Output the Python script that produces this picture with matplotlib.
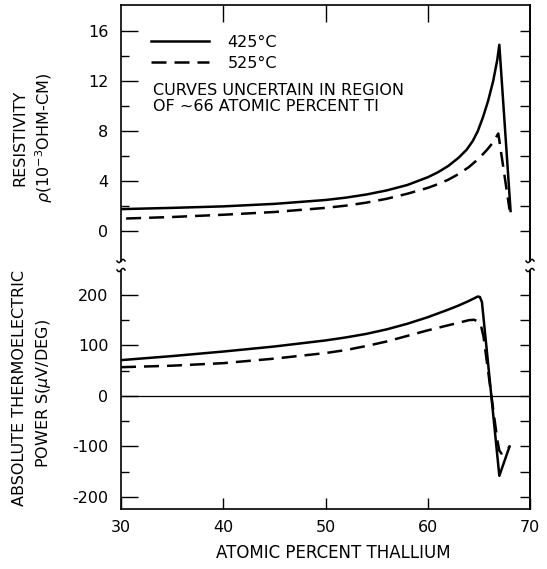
import matplotlib
matplotlib.use("Agg")
import matplotlib.pyplot as plt
from matplotlib.lines import Line2D
import numpy as np

plt.rcParams['font.family'] = ['DejaVu Sans']
plt.rcParams['mathtext.fontset'] = 'dejavusans'

# ---- data ----
# Resistivity (10^-3 ohm-cm)
rho_425_x = [30, 35, 40, 45, 50, 52, 54, 56, 58, 60, 61, 62, 63, 63.8, 64.4, 64.9, 65.4, 65.9, 66.4, 66.8, 67.0, 68.1]
rho_425_y = [1.75, 1.85, 1.97, 2.17, 2.48, 2.67, 2.92, 3.25, 3.68, 4.3, 4.7, 5.2, 5.85, 6.5, 7.2, 8.0, 9.1, 10.4, 12.0, 13.7, 14.9, 1.6]
rho_525_x = [30.5, 35, 40, 45, 50, 52, 54, 56, 58, 60, 61, 62, 63, 64, 65, 65.8, 66.4, 66.9, 68.0]
rho_525_y = [1.0, 1.12, 1.3, 1.52, 1.85, 2.03, 2.27, 2.58, 2.98, 3.45, 3.75, 4.1, 4.55, 5.1, 5.8, 6.5, 7.1, 7.8, 1.7]

# Absolute thermoelectric power (uV/deg)
s_425_x = [30, 35, 40, 45, 50, 52, 54, 56, 58, 60, 62, 63, 64, 64.6, 64.9, 65.1, 65.3, 67.0, 68.0]
s_425_y = [71, 79, 88, 98, 110, 116, 123, 132, 143, 156, 171, 179, 188, 194, 197, 196, 186, -158, -100]
s_525_x = [30, 35, 40, 45, 50, 52, 54, 56, 58, 60, 62, 63.2, 64, 64.5, 64.9, 65.2, 65.45, 66.8, 67.0, 67.2, 67.5, 68.0]
s_525_y = [57, 60, 65, 74, 85, 91, 99, 108, 119, 130, 140, 146, 150, 151, 148, 140, 118, -87, -108, -114, -112, -100]

labels = ["425°C", "525°C"]
x_ticks = [30, 40, 50, 60, 70]
rho_major = [0, 4, 8, 12, 16]
rho_minor = [2, 6, 10, 14]
rho_right = [0, 2, 4, 6, 8, 10, 12, 14, 16]
s_major = [-200, -100, 0, 100, 200]
s_minor = [-150, -50, 50, 150]
s_right = [-200, -150, -100, -50, 0, 50, 100, 150, 200]

W, H = 547, 569
fig = plt.figure(figsize=(W / 100, H / 100), dpi=100)

def fx(px):
    return px / W

def fy(py):
    return 1 - py / H

L, R = 121, 530
ax1 = fig.add_axes([fx(L), fy(261), (R - L) / W, (261 - 5) / H])
ax2 = fig.add_axes([fx(L), fy(509), (R - L) / W, (509 - 271) / H])

lw = 1.8
dash = (6, 3.2)
tick_fs = 11.5

for ax in (ax1, ax2):
    ax.set_xlim(30, 70)
    for s in ax.spines.values():
        s.set_linewidth(1.2)

# top panel
ax1.plot(rho_425_x, rho_425_y, color='black', lw=lw, label=labels[0])
ax1.plot(rho_525_x, rho_525_y, color='black', lw=lw, ls=(0, dash), label=labels[1])
ax1.set_ylim(-2.4, 18.08)
ax1.spines['bottom'].set_visible(False)
ax1.xaxis.set_ticks_position('top')
ax1.set_xticks([40, 50, 60])
ax1.tick_params(axis='x', which='both', direction='in', length=12, width=1.0, labeltop=False, labelbottom=False)
ax1.set_yticks(rho_major)
ax1.set_yticks(rho_minor, minor=True)
ax1.tick_params(axis='y', which='major', direction='in', length=12, width=1.0, labelsize=tick_fs, pad=9)
ax1.tick_params(axis='y', which='minor', direction='in', length=6, width=1.0)
sec1 = ax1.secondary_yaxis('right')
sec1.set_yticks(rho_right)
sec1.tick_params(axis='y', direction='in', length=7, width=1.0, labelright=False)
sec1.spines['right'].set_linewidth(1.2)

# bottom panel
ax2.axhline(0, color='black', lw=0.9)
ax2.plot(s_425_x, s_425_y, color='black', lw=lw)
ax2.plot(s_525_x, s_525_y, color='black', lw=lw, ls=(0, dash))
ax2.set_ylim(-223.8, 247.5)
ax2.spines['top'].set_visible(False)
ax2.set_xticks(x_ticks)
ax2.set_xticklabels([str(v) for v in x_ticks])
ax2.tick_params(axis='x', direction='in', length=8, width=1.0, labelsize=tick_fs, pad=8)
ax2.set_yticks(s_major)
ax2.set_yticklabels(['-200', '-100', '0', '100', '200'])
ax2.set_yticks(s_minor, minor=True)
ax2.tick_params(axis='y', which='major', direction='in', length=12, width=1.0, labelsize=tick_fs, pad=9)
ax2.tick_params(axis='y', which='minor', direction='in', length=6, width=1.0)
sec2 = ax2.secondary_yaxis('right')
sec2.set_yticks(s_right)
sec2.tick_params(axis='y', direction='in', length=7, width=1.0, labelright=False)
sec2.spines['right'].set_linewidth(1.2)

# legend and note
note_fs = 11.5
leg = ax1.legend(loc='upper left', bbox_to_anchor=(fx(151), fy(35)), bbox_transform=fig.transFigure,
                 frameon=False, fontsize=note_fs, handlelength=3.6, handletextpad=1.2,
                 labelspacing=0.38, borderpad=0, borderaxespad=0)
fig.text(fx(153), fy(98.5), "CURVES UNCERTAIN IN REGION\nOF ~66 ATOMIC PERCENT TI",
         fontsize=note_fs, ha='left', va='center', linespacing=1.05)

# axis labels
lab_fs = 11.5
fig.text(fx(20), fy(138), "RESISTIVITY", rotation=90, ha='center', va='center', fontsize=lab_fs)
fig.text(fx(44), fy(138), r"$\rho$(10$^{-3}$OHM-CM)", rotation=90, ha='center', va='center', fontsize=lab_fs)
fig.text(fx(20), fy(388), "ABSOLUTE THERMOELECTRIC", rotation=90, ha='center', va='center', fontsize=lab_fs)
fig.text(fx(44), fy(393), r"POWER S($\mu$V/DEG)", rotation=90, ha='center', va='center', fontsize=lab_fs)
fig.text(fx(333), fy(553), "ATOMIC PERCENT THALLIUM", ha='center', va='center', fontsize=12)

# axis break squiggles
t = np.linspace(0, 1, 30)
for xc in (L, R):
    for yc in (261, 270):
        xs = xc - 4 + 8 * t
        ys = yc + 1.6 * np.sin(2 * np.pi * t)
        fig.add_artist(Line2D(fx(xs), fy(ys), transform=fig.transFigure, color='black', lw=1.1))

fig.savefig("out.png", dpi=100)
